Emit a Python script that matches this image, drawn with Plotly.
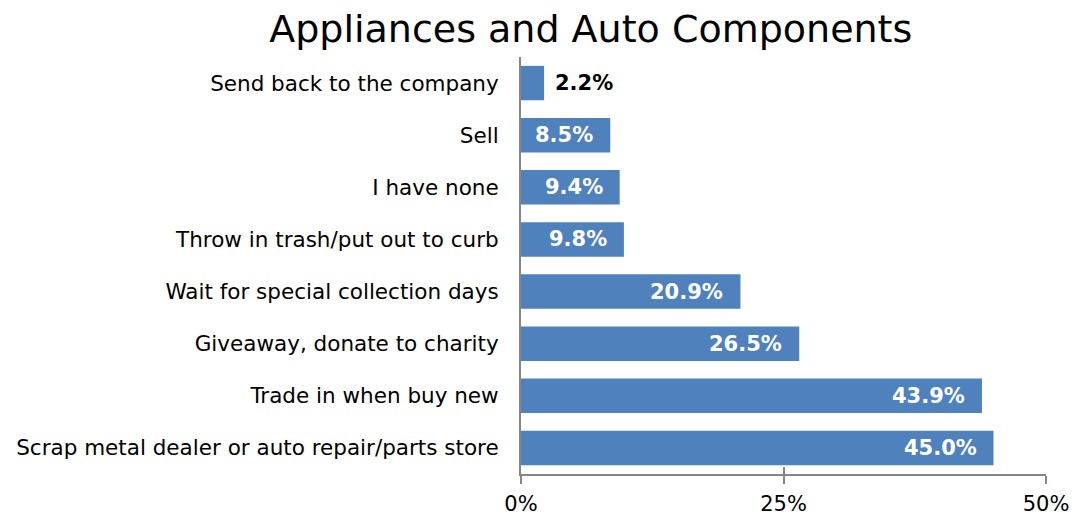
import plotly.graph_objects as go

categories = [
    "Scrap metal dealer or auto repair/parts store",
    "Trade in when buy new",
    "Giveaway, donate to charity",
    "Wait for special collection days",
    "Throw in trash/put out to curb",
    "I have none",
    "Sell",
    "Send back to the company",
]
values = [45.0, 43.9, 26.5, 20.9, 9.8, 9.4, 8.5, 2.2]
tick_values = [0, 25, 50]
tick_labels = ["0%", "25%", "50%"]

BAR_COLOR = "#4F81BD"
AXIS_COLOR = "#868686"
FONT = "DejaVu Sans"

fig = go.Figure()
fig.add_trace(go.Bar(
    x=values, y=categories, orientation="h",
    marker=dict(color=BAR_COLOR, line=dict(width=0)),
    width=0.66, hoverinfo="x+y",
))

# Value labels: inside the bar end, or just outside for short bars
for cat, v in zip(categories, values):
    inside = v >= 5
    fig.add_annotation(
        x=v, y=cat, xref="x", yref="y",
        text=f"<b>{v:.1f}%</b>", showarrow=False,
        xanchor="right" if inside else "left",
        xshift=-15 if inside else 9,
        font=dict(family=FONT, size=21, color="white" if inside else "black"),
    )

fig.update_layout(
    width=1078, height=516,
    margin=dict(l=521, r=32, t=57, b=42, autoexpand=False),
    paper_bgcolor="white", plot_bgcolor="white",
    showlegend=False, bargap=0.34,
    title=dict(text="Appliances and Auto Components", x=0.548, xanchor="center",
               y=0.945, yanchor="middle",
               font=dict(family=FONT, size=38, color="black")),
    font=dict(family=FONT, color="black"),
    xaxis=dict(range=[0, 50], tickvals=tick_values, ticktext=tick_labels,
               automargin=False,
               showgrid=False, zeroline=False, showline=True, linecolor=AXIS_COLOR,
               linewidth=2, ticks="outside", ticklen=8, tickwidth=2, tickcolor=AXIS_COLOR,
               ticklabelstandoff=2,
               tickfont=dict(family=FONT, size=21, color="black"), fixedrange=True),
    xaxis2=dict(range=[0, 50], overlaying="x", side="bottom", anchor="y",
                automargin=False,
                tickvals=tick_values, showticklabels=False, showgrid=False,
                zeroline=False, showline=False, ticks="inside", ticklen=7,
                tickwidth=2, tickcolor=AXIS_COLOR, fixedrange=True),
    yaxis=dict(range=[-0.5, len(categories) - 0.5], autorange=False, automargin=False,
               showgrid=False, zeroline=False, showline=True, linecolor=AXIS_COLOR,
               linewidth=2, ticks="", ticklabelstandoff=16,
               tickfont=dict(family=FONT, size=21.5, color="black"), fixedrange=True),
)
# Invisible trace that carries the second x axis so its inner tick marks show
fig.add_trace(go.Scatter(x=[0], y=[categories[0]], xaxis="x2", mode="markers",
                         marker=dict(opacity=0), hoverinfo="skip", showlegend=False))

fig.write_html("out.html")
